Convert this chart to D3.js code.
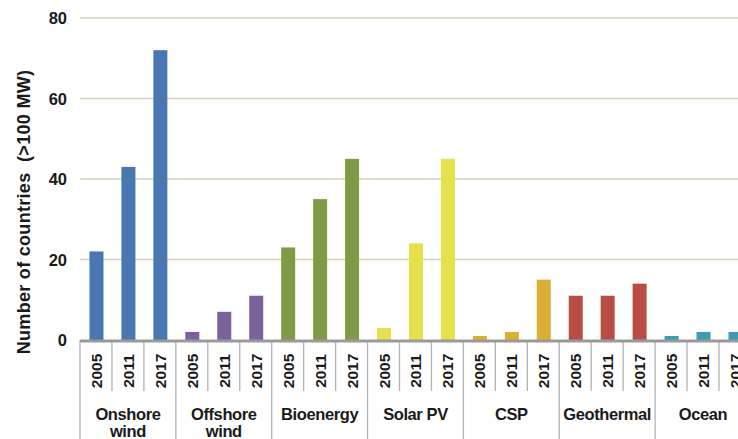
<!DOCTYPE html>
<meta charset="utf-8">
<script src="https://d3js.org/d3.v7.min.js"></script>
<style>
  body { margin: 0; background: #fff; }
  svg text { font-family: "Liberation Sans", Arial, sans-serif; font-weight: bold; fill: #1a1a1a; }
</style>
<div id="chart"></div>
<script>
  // data
  var groups = ["Onshore wind", "Offshore wind", "Bioenergy", "Solar PV", "CSP", "Geothermal", "Ocean"];
  var years = ["2005", "2011", "2017"];
  var counts = [
    [22, 43, 72],
    [2, 7, 11],
    [23, 35, 45],
    [3, 24, 45],
    [1, 2, 15],
    [11, 11, 14],
    [1, 2, 2]
  ];
  var colors = ["#4a76b1", "#7b629c", "#7f9b46", "#e6e04c", "#dbae36", "#b94d46", "#3f9bb1"];
  var yTicks = [0, 20, 40, 60, 80];

  var W = 738, H = 439;
  var plotLeft = 80, base = 340, plotTop = 18, cell = 31.95;

  var svg = d3.select("#chart").append("svg")
    .attr("width", W).attr("height", H);

  // flat list of cells
  var cells = [];
  groups.forEach(function(g, gi) {
    years.forEach(function(yr, yi) {
      cells.push({group: g, gi: gi, year: yr, key: g + "|" + yr, value: counts[gi][yi]});
    });
  });

  var x = d3.scaleBand()
    .domain(cells.map(function(d) { return d.key; }))
    .range([plotLeft, plotLeft + cell * cells.length])
    .padding(0);

  var y = d3.scaleLinear().domain([0, 80]).range([base, plotTop]);

  // gridlines
  svg.append("g")
    .selectAll("line")
    .data(yTicks.filter(function(t) { return t > 0; }))
    .enter().append("line")
      .attr("x1", plotLeft).attr("x2", W)
      .attr("y1", function(d) { return y(d); })
      .attr("y2", function(d) { return y(d); })
      .attr("stroke", "#d5d3b2")
      .attr("stroke-width", 1.6);

  // y tick labels
  svg.append("g")
    .selectAll("text")
    .data(yTicks)
    .enter().append("text")
      .attr("x", 67)
      .attr("y", function(d) { return y(d) + 6; })
      .attr("text-anchor", "end")
      .style("font-size", "16.5px")
      .text(function(d) { return d; });

  // y title
  svg.append("text")
    .attr("transform", "translate(30,212) rotate(-90)")
    .attr("text-anchor", "middle")
    .style("font-size", "18px")
    .style("letter-spacing", "0.3px")
    .style("white-space", "pre")
    .text("Number of countries  (>100 MW)");

  // bars
  var barW = 14;
  svg.append("g")
    .selectAll("rect")
    .data(cells)
    .enter().append("rect")
      .attr("x", function(d) { return x(d.key) + x.bandwidth() / 2 - barW / 2 + 0.5; })
      .attr("y", function(d) { return y(d.value); })
      .attr("width", barW)
      .attr("height", function(d) { return base - y(d.value); })
      .attr("fill", function(d) { return colors[d.gi]; });

  // cell separators
  svg.append("g")
    .selectAll("line")
    .data(cells)
    .enter().append("line")
      .attr("x1", function(d) { return x(d.key); })
      .attr("x2", function(d) { return x(d.key); })
      .attr("y1", base)
      .attr("y2", function(d) { return d.year === "2005" ? H : 391; })
      .attr("stroke", "#b3b3b3")
      .attr("stroke-width", 1.3);

  // baseline
  svg.append("line")
    .attr("x1", plotLeft).attr("x2", W)
    .attr("y1", base + 1).attr("y2", base + 1)
    .attr("stroke", "#9a9a9a")
    .attr("stroke-width", 3);

  // year labels
  svg.append("g")
    .selectAll("text")
    .data(cells)
    .enter().append("text")
      .attr("transform", function(d) {
        return "translate(" + (x(d.key) + x.bandwidth() / 2 + 6) + ",371) rotate(-90)";
      })
      .attr("text-anchor", "middle")
      .style("font-size", "15.5px")
      .text(function(d) { return d.year; });

  // group labels
  groups.forEach(function(g, gi) {
    var cx = x(g + "|2005") + cell * 1.5;
    var lines = g === "Onshore wind" || g === "Offshore wind" ? g.split(" ") : [g];
    var t = svg.append("text")
      .attr("text-anchor", "middle")
      .style("font-size", "16.5px")
      .style("letter-spacing", "-0.4px");
    lines.forEach(function(l, i) {
      t.append("tspan").attr("x", cx).attr("y", 420 + i * 17).text(l);
    });
  });
</script>
